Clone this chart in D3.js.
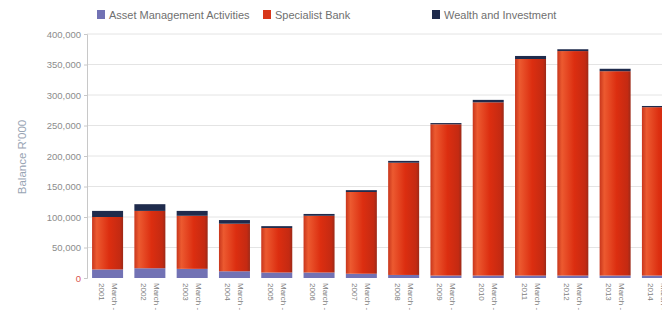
<!DOCTYPE html>
<html>
<head>
<meta charset="utf-8">
<script src="https://cdn.jsdelivr.net/npm/d3@7"></script>
<style>
  body { margin: 0; background: #fff; }
  svg { display: block; font-family: "Liberation Sans", Arial, sans-serif; }
</style>
</head>
<body>
<div id="chart"></div>
<script>
const years = ["2001", "2002", "2003", "2004", "2005", "2006", "2007", "2008", "2009", "2010", "2011", "2012", "2013", "2014"];
const assetMgmt = [14000, 16000, 15000, 11000, 9000, 9000, 7000, 5000, 4000, 4000, 4000, 4000, 4000, 4000];
const specialistBank = [86000, 94000, 87000, 78000, 73000, 93000, 134000, 184000, 248000, 284000, 355000, 368000, 335000, 276000];
const wealth = [10000, 11000, 8000, 6000, 3000, 3000, 3000, 3000, 2000, 4000, 5000, 3000, 4000, 2000];
const yTicks = [0, 50000, 100000, 150000, 200000, 250000, 300000, 350000, 400000];
const seriesNames = ["Asset Management Activities", "Specialist Bank", "Wealth and Investment"];

const width = 662, height = 326;
const colors = ["#7272b4", "url(#redGrad)", "#1f2b4c"];
const legendColors = ["#7272b4", "#d8361a", "#1f2b4c"];

const svg = d3.select("#chart").append("svg")
  .attr("width", width)
  .attr("height", height);

const defs = svg.append("defs");
const g = defs.append("linearGradient").attr("id", "redGrad")
  .attr("x1", "0%").attr("x2", "100%").attr("y1", "0%").attr("y2", "0%");
g.append("stop").attr("offset", "0%").attr("stop-color", "#c8361c");
g.append("stop").attr("offset", "15%").attr("stop-color", "#ec5a30");
g.append("stop").attr("offset", "55%").attr("stop-color", "#dc2e10");
g.append("stop").attr("offset", "90%").attr("stop-color", "#c42a12");
g.append("stop").attr("offset", "100%").attr("stop-color", "#9c2a18");

const x = d3.scaleBand()
  .domain(years)
  .range([87, 678])
  .paddingInner(0.267)
  .paddingOuter(0.12);

const y = d3.scaleLinear()
  .domain([0, 400000])
  .range([278, 34]);

// gridlines
svg.append("g")
  .selectAll("line")
  .data(yTicks.filter(d => d > 0))
  .enter()
  .append("line")
  .attr("x1", 87).attr("x2", width)
  .attr("y1", d => y(d)).attr("y2", d => y(d))
  .attr("stroke", "#e4e4e4");

// y axis
const yAxis = svg.append("g")
  .attr("transform", "translate(87,0)")
  .call(d3.axisLeft(y).tickValues(yTicks).tickFormat(d3.format(",")).tickSize(3).tickPadding(3));
yAxis.select(".domain").attr("stroke", "#c8c8c8");
yAxis.selectAll(".tick line").attr("stroke", "#c8c8c8");
yAxis.selectAll("text").attr("fill", "#8c8c8c").style("font-size", "9.5px");
yAxis.selectAll(".tick").filter(d => d === 0).select("text").attr("fill", "#d9534f");

svg.append("text")
  .attr("transform", `translate(26,157) rotate(-90)`)
  .attr("text-anchor", "middle")
  .attr("fill", "#98a4b4")
  .style("font-size", "11.5px")
  .text("Balance R'000");

// stacked bars
const rows = years.map((yr, i) => ({ year: yr, a: assetMgmt[i], s: specialistBank[i], w: wealth[i] }));
const stack = d3.stack().keys(["a", "s", "w"])(rows);

svg.append("g")
  .selectAll("g")
  .data(stack)
  .enter()
  .append("g")
  .attr("fill", (d, i) => colors[i])
  .selectAll("rect")
  .data(d => d)
  .enter()
  .append("rect")
  .attr("x", d => x(d.data.year))
  .attr("y", d => y(d[1]))
  .attr("width", x.bandwidth())
  .attr("height", d => y(d[0]) - y(d[1]));

// x labels
const xl = svg.append("g")
  .selectAll("text")
  .data(years)
  .enter()
  .append("text")
  .attr("transform", d => `translate(${x(d) + x.bandwidth() / 2},283) rotate(90)`)
  .attr("fill", "#808080")
  .style("font-size", "8px");
xl.append("tspan").attr("x", 0).attr("y", -4).text("March -");
xl.append("tspan").attr("x", 0).attr("y", 9).text(d => d);

// legend
const legendX = [97, 263, 432];
const leg = svg.append("g")
  .selectAll("g")
  .data(seriesNames)
  .enter()
  .append("g")
  .attr("transform", (d, i) => `translate(${legendX[i]},10)`);
leg.append("rect")
  .attr("width", 8).attr("height", 9)
  .attr("fill", (d, i) => legendColors[i]);
leg.append("text")
  .attr("x", 12).attr("y", 8.5)
  .attr("fill", "#707070")
  .style("font-size", "11px")
  .text(d => d);
</script>
</body>
</html>
